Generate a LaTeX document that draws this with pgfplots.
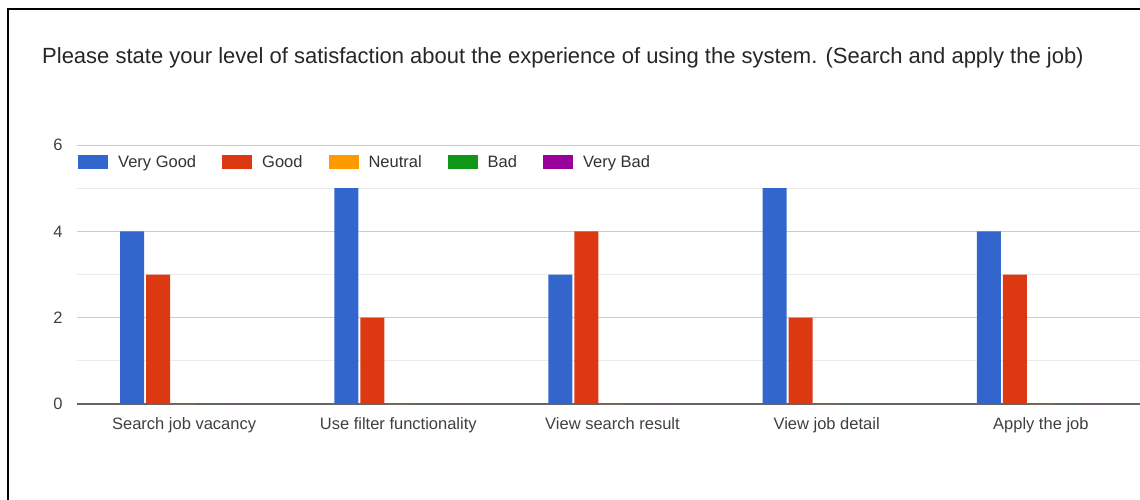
\documentclass[border=0pt]{standalone}
\usepackage{fontspec}
\setmainfont{Liberation Sans}
\usepackage{pgfplots}
\pgfplotsset{compat=1.18}
\definecolor{cVG}{HTML}{3366CC}
\definecolor{cG}{HTML}{DC3912}
\definecolor{cN}{HTML}{FF9900}
\definecolor{cB}{HTML}{109618}
\definecolor{cVB}{HTML}{990099}
\begin{document}
\begin{tikzpicture}[x=1pt,y=1pt]
\useasboundingbox (0,0) rectangle (1140,-500);
\draw[line width=2pt, black] (8,-501) -- (8,-9) -- (1141,-9);
\node[anchor=west, text=black!85, inner sep=0pt, font=\fontsize{22}{26}\selectfont] at (42,-58) {Please state your level of satisfaction about the experience of using the system. (Search and apply the job)};
\begin{axis}[
  at={(77pt,-404pt)}, anchor=south west,
  scale only axis, width=1071pt, height=259pt,
  xmin=-0.5, xmax=4.5, ymin=0, ymax=6,
  xtick={0,1,2,3,4},
  xticklabels={Search job vacancy, Use filter functionality, View search result, View job detail, Apply the job},
  ytick={0,2,4,6}, minor ytick={1,3,5},
  /pgf/number format/assume math mode=true,
  ymajorgrids, yminorgrids,
  major grid style={color=black!20, line width=1pt},
  minor grid style={color=black!8, line width=1pt},
  major tick length=0pt, minor tick length=0pt,
  axis x line*=bottom, axis y line*=left,
  x axis line style={draw=black!60, line width=1.3pt, -},
  y axis line style={draw=none},
  ticklabel style={font=\fontsize{16.5}{20}\selectfont, text=black!75},
  yticklabel style={xshift=-11pt},
  xticklabel style={yshift=-10pt},
  ybar=2pt, bar width=24pt,
  legend columns=-1,
  legend style={at={(rel axis cs:0,1)}, anchor=west, xshift=1pt, yshift=-17pt, draw=none, fill=none, inner sep=0pt,
    font=\fontsize{16.5}{20}\selectfont, text=black!80,
    /tikz/every odd column/.append style={column sep=8pt},
    /tikz/every even column/.append style={column sep=24pt}},
  legend image code/.code={\fill[#1] (0pt,-7pt) rectangle (30pt,7pt);},
]
\addplot[fill=cVG, draw=none] coordinates {(0,4) (1,5) (2,3) (3,5) (4,4)};
\addplot[fill=cG, draw=none] coordinates {(0,3) (1,2) (2,4) (3,2) (4,3)};
\addplot[fill=cN, draw=none] coordinates {(0,0) (1,0) (2,0) (3,0) (4,0)};
\addplot[fill=cB, draw=none] coordinates {(0,0) (1,0) (2,0) (3,0) (4,0)};
\addplot[fill=cVB, draw=none] coordinates {(0,0) (1,0) (2,0) (3,0) (4,0)};
\legend{Very Good, Good, Neutral, Bad, Very Bad}
\end{axis}
\end{tikzpicture}
\end{document}
